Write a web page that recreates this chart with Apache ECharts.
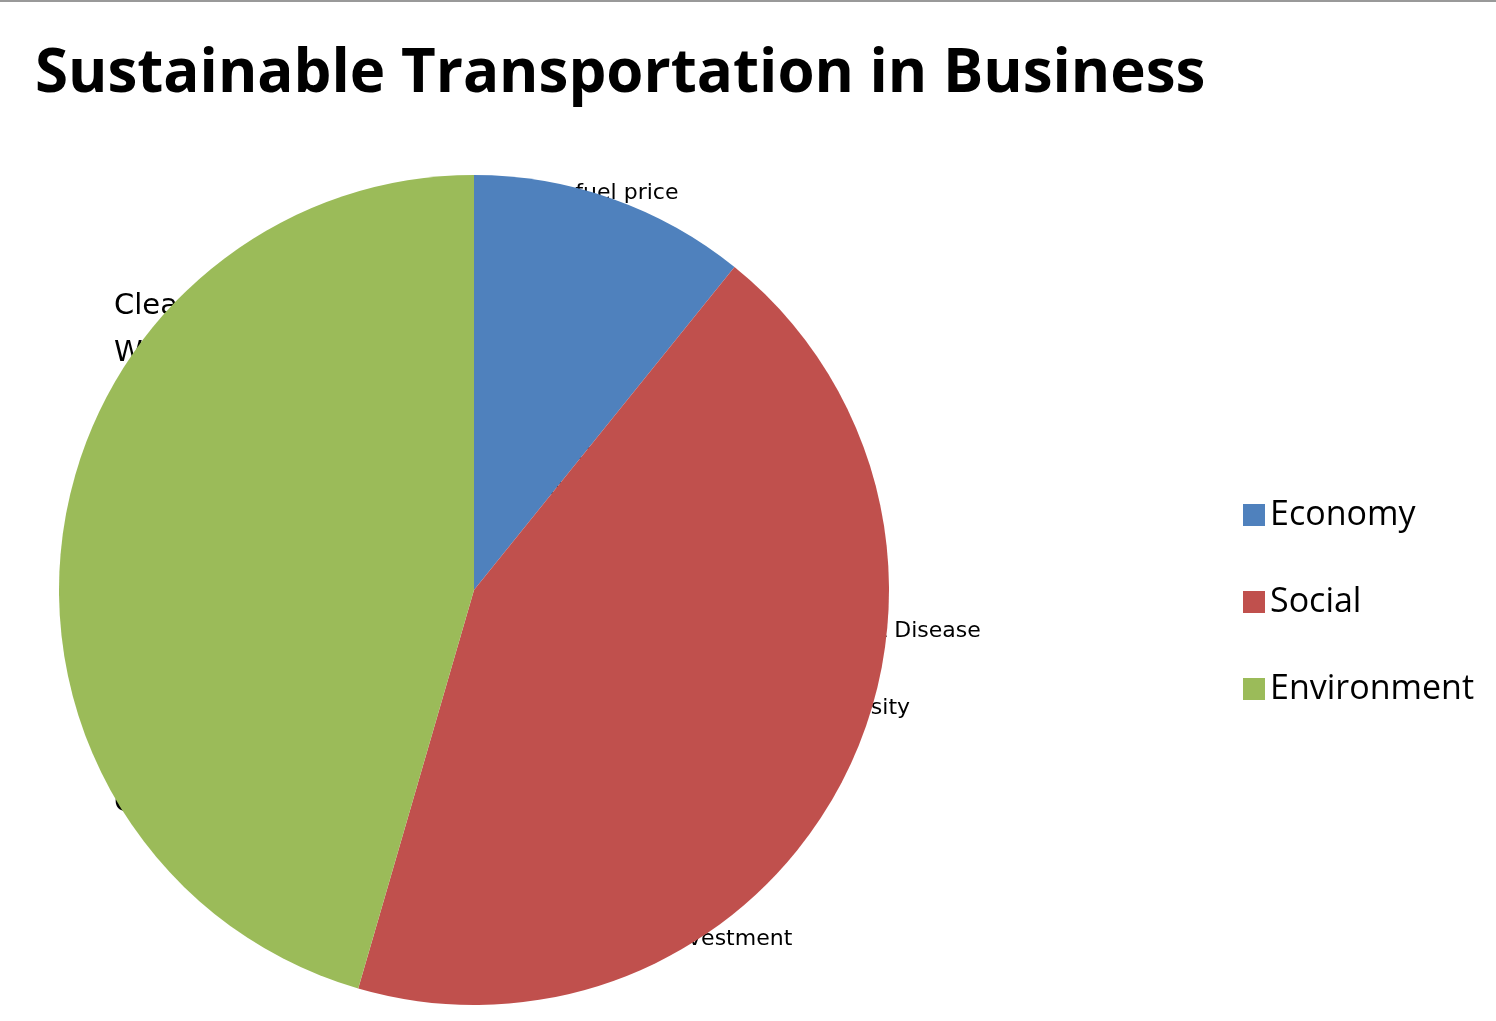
<!DOCTYPE html>
<html><head><meta charset="utf-8">
<script src="https://cdn.jsdelivr.net/npm/echarts@6/dist/echarts.min.js"></script>
<style>html,body{margin:0;padding:0;background:#fff}#c{width:1496px;height:1021px}</style>
</head><body><div id="c"></div>
<script>
const categories = ['Economy','Social','Environment'];
const values = [10.8, 43.7, 45.5];
const colors = ['#4F81BD','#C0504D','#9BBB59'];
const econNotes = ['Reduce fuel price\nrisk','Reduce delivery\nvehicle gas\nconsumption','Reduce taxi\nexpenses'];
const socialNotes = ['Happiness & Well Being','Walkability','Bike Friendly','Stress','Urban Vitality','Mass transit Investment'];
const socialNotes2 = ['Heart Disease','Obesity'];
const envNotes = ['Cleaner Air &\nWater','Less Gas\nConsumed','Less Road Upkeep','Less Greenhouse\nGas Emissions','Cleaner Streets'];

const F = "'DejaVu Sans', sans-serif";
const g = [];
g.push({type:'rect',shape:{x:0,y:0,width:1496,height:2},style:{fill:'#999'}});
const econY=[176,288,436];
econNotes.forEach((t,i)=>g.push({type:'text',left:487,top:econY[i],style:{text:t,font:'22px '+F,fill:'#000',lineHeight:35}}));
socialNotes.forEach((t,i)=>g.push({type:'text',left:527,top:543+i*77,style:{text:t,font:'22px '+F,fill:'#000'}}));
socialNotes2.forEach((t,i)=>g.push({type:'text',left:826,top:620+i*77,style:{text:t,font:'22px '+F,fill:'#000'}}));
const envY=[283,419,556,644,780];
envNotes.forEach((t,i)=>g.push({type:'text',left:114,top:envY[i],style:{text:t,font:'29px '+F,fill:'#000',lineHeight:47}}));

const chart = echarts.init(document.getElementById('c'));
chart.setOption({
  animation:false,
  title:{text:'Sustainable Transportation in Business',left:30,top:40,
    textStyle:{fontFamily:"'Open Sans', sans-serif",fontWeight:'bold',fontSize:60,color:'#000'}},
  legend:{orient:'vertical',left:1238,top:493,itemWidth:22,itemHeight:22,itemGap:53,icon:'rect',
    textStyle:{fontFamily:"'Open Sans', sans-serif",fontSize:34,color:'#000'},data:categories},
  color:colors,
  series:[{type:'pie',center:[474,590],radius:[0,415],startAngle:90,clockwise:true,
    label:{show:false},labelLine:{show:false},silent:true,
    data:categories.map((c,i)=>({name:c,value:values[i]}))}],
  graphic:g
});
</script></body></html>
